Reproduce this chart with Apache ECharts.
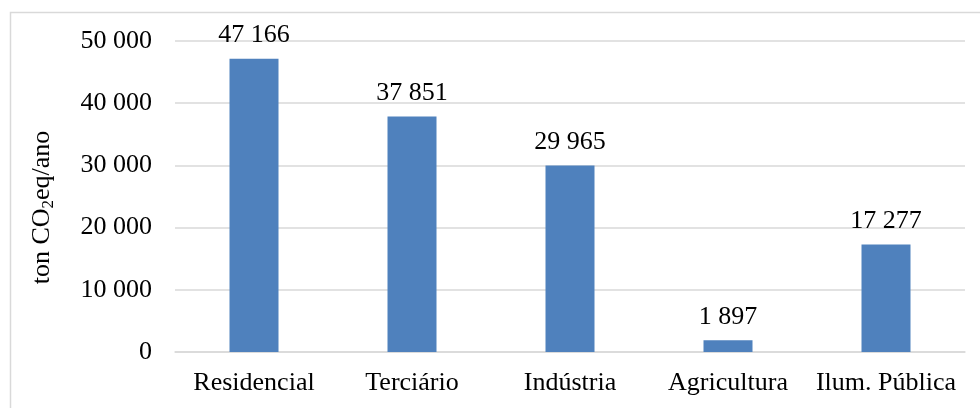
<!DOCTYPE html>
<html>
<head>
<meta charset="utf-8">
<script src="https://cdn.jsdelivr.net/npm/echarts@6/dist/echarts.min.js"></script>
<style>
  html, body { margin: 0; padding: 0; background: #fff; }
  #chart { width: 980px; height: 408px; }
</style>
</head>
<body>
<div id="chart"></div>
<script>
const categories = ['Residencial', 'Terciário', 'Indústria', 'Agricultura', 'Ilum. Pública']
const emissions = [47166, 37851, 29965, 1897, 17277]
const yTicks = { min: 0, max: 50000, interval: 10000 }

const FONT = '"Liberation Serif", "Times New Roman", serif'

// 47166 -> "47 166"
function spaced(v) {
    return String(v).replace(/\B(?=(\d{3})+(?!\d))/g, ' ')
}

const chart = echarts.init(document.getElementById('chart'))

const option = {
    animation: false,
    textStyle: { fontFamily: FONT },
    graphic: [
        {
            type: 'rect',
            shape: { x: 10.5, y: 12.5, width: 1000, height: 500 },
            style: { fill: 'none', stroke: '#d9d9d9', lineWidth: 1.5 },
            silent: true
        }
    ],
    grid: { left: 175, right: 15, top: 41, bottom: 56 },
    xAxis: {
        type: 'category',
        data: categories,
        axisLine: { lineStyle: { color: '#d9d9d9', width: 1.5 } },
        axisTick: { show: false },
        axisLabel: { color: '#000', fontSize: 26, fontFamily: FONT, margin: 18, interval: 0 }
    },
    yAxis: {
        type: 'value',
        min: yTicks.min,
        max: yTicks.max,
        interval: yTicks.interval,
        name: 'ton CO{sub|2}eq/ano',
        nameLocation: 'middle',
        nameGap: 118,
        nameTextStyle: {
            color: '#000',
            fontSize: 26,
            fontFamily: FONT,
            lineHeight: 30,
            padding: [0, 22, 0, 0],
            rich: {
                sub: { fontSize: 17, fontFamily: FONT, color: '#000', lineHeight: 17, verticalAlign: 'bottom' }
            }
        },
        axisLine: { show: false },
        axisTick: { show: false },
        splitLine: { lineStyle: { color: '#d9d9d9', width: 1.5 } },
        axisLabel: {
            color: '#000',
            fontSize: 26,
            fontFamily: FONT,
            margin: 23,
            formatter: spaced
        }
    },
    series: [
        {
            type: 'bar',
            data: emissions,
            barWidth: 49,
            itemStyle: { color: '#4f81bd' },
            label: {
                show: true,
                position: 'top',
                distance: 10,
                color: '#000',
                fontSize: 26,
                fontFamily: FONT,
                formatter: p => spaced(p.value)
            }
        }
    ]
}

chart.setOption(option)
</script>
</body>
</html>
